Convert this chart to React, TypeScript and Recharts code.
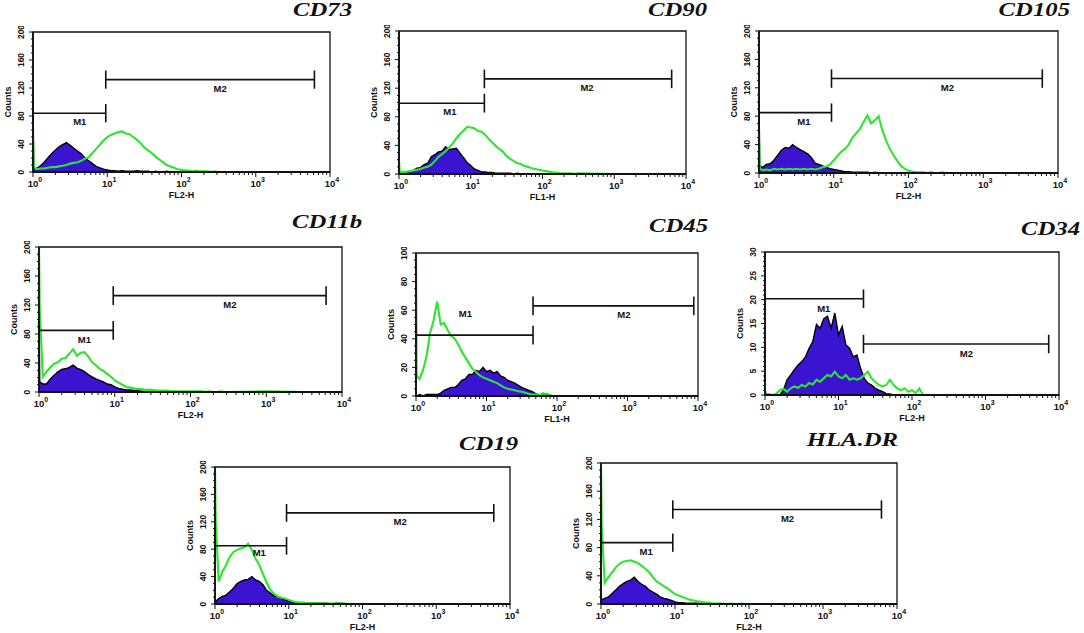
import React from 'react';
import { ComposedChart, Area, Line, XAxis, YAxis, ReferenceLine, ReferenceDot, ReferenceArea } from 'recharts';

// Channel positions in decades (log10 of fluorescence intensity)
const CHANNELS = [
  0, 0.01,
  0.05, 0.1, 0.15, 0.2, 0.25, 0.3, 0.35, 0.4, 0.45, 0.5,
  0.55, 0.6, 0.65, 0.7, 0.75, 0.8, 0.85, 0.9, 0.95, 1.0,
  1.05, 1.1, 1.15, 1.2, 1.25, 1.3, 1.35, 1.4, 1.45, 1.5,
  1.55, 1.6, 1.65, 1.7, 1.75, 1.8, 1.85, 1.9, 1.95, 2.0,
  2.05, 2.1, 2.15, 2.2, 2.25, 2.3, 2.35, 2.4, 2.45, 2.5,
  3.0, 3.5, 4.0,
];

const X_DECADES = [0, 1, 2, 3, 4];
const X_EXPONENTS = ['0', '1', '2', '3', '4'];
const Y_TICKS_200 = [0, 40, 80, 120, 160, 200];
const Y_TICKS_100 = [0, 20, 40, 60, 80, 100];
const Y_TICKS_30 = [0, 5, 10, 15, 20, 25, 30];

// ---- CD73 ----
const cd73Iso = [
  105, 6,
  5, 9, 14, 20, 26, 31, 36, 39, 42, 38,
  34, 30, 26, 20, 16, 12, 8, 6, 4, 3,
  2, 2, 1, 2, 1, 1, 1, 2, 1, 1,
  1, 0, 1, 0, 0, 1, 0, 0, 0, 0,
  0, 0, 0, 0, 0, 0, 0, 0, 0, 0,
  0, 0, 0,
];
const cd73Stain = [
  50, 8,
  4, 5, 5, 6, 7, 7, 8, 9, 10, 12,
  13, 14, 16, 19, 21, 27, 33, 39, 45, 50,
  53, 55, 57, 58, 55, 54, 50, 46, 41, 35,
  31, 27, 22, 18, 14, 10, 8, 6, 4, 3,
  2, 2, 1, 2, 1, 1, 1, 0, 1, 0,
  0, 0, 0,
];
// ---- CD90 ----
const cd90Iso = [
  3, 2,
  1, 2, 3, 5, 8, 9, 13, 15, 24, 27,
  31, 32, 38, 34, 35, 36, 29, 23, 16, 12,
  7, 5, 3, 3, 2, 2, 1, 1, 1, 1,
  1, 0, 1, 0, 0, 0, 0, 0, 0, 0,
  0, 0, 0, 0, 0, 0, 0, 0, 0, 0,
  0, 0, 0,
];
const cd90Stain = [
  19, 3,
  3, 3, 4, 5, 6, 7, 9, 10, 13, 18,
  24, 28, 32, 37, 43, 50, 56, 61, 66, 65,
  64, 60, 59, 55, 49, 44, 39, 35, 31, 25,
  21, 18, 15, 14, 11, 10, 8, 7, 6, 5,
  4, 3, 2, 2, 1, 1, 1, 1, 0, 1,
  0, 0, 0,
];
// ---- CD105 ----
const cd105Iso = [
  107, 10,
  8, 12, 13, 18, 25, 32, 36, 35, 40, 36,
  33, 30, 27, 22, 14, 12, 10, 8, 6, 5,
  4, 3, 2, 2, 1, 1, 1, 1, 1, 0,
  1, 0, 0, 0, 0, 0, 0, 0, 0, 0,
  0, 0, 0, 0, 0, 0, 0, 0, 0, 0,
  0, 0, 0,
];
const cd105Stain = [
  55, 6,
  4, 5, 4, 6, 5, 6, 5, 6, 5, 6,
  5, 6, 5, 6, 5, 6, 8, 9, 12, 18,
  24, 30, 34, 40, 50, 56, 62, 72, 81, 70,
  74, 80, 60, 46, 34, 25, 17, 10, 6, 3,
  2, 1, 1, 1, 0, 1, 0, 0, 1, 0,
  0, 0, 0,
];
// ---- CD11b ----
const cd11bIso = [
  97, 14,
  11, 11, 18, 23, 28, 31, 32, 34, 37, 33,
  31, 28, 24, 21, 18, 16, 14, 11, 10, 7,
  5, 4, 3, 3, 2, 2, 1, 1, 1, 1,
  0, 1, 0, 0, 0, 0, 0, 0, 0, 0,
  0, 0, 0, 0, 0, 0, 0, 0, 0, 0,
  0, 0, 0,
];
const cd11bStain = [
  200, 113,
  21, 28, 34, 39, 41, 46, 47, 53, 59, 50,
  54, 55, 49, 41, 37, 32, 29, 25, 21, 16,
  13, 10, 7, 6, 5, 4, 4, 3, 3, 3,
  2, 2, 2, 2, 1, 1, 1, 1, 1, 1,
  1, 1, 1, 0, 1, 0, 0, 1, 0, 0,
  1, 0, 0,
];
// ---- CD45 ----
const cd45Iso = [
  0, 0,
  1, 0, 1, 1, 1, 1, 2, 4, 5, 6,
  6, 8, 11, 12, 15, 15, 18, 17, 20, 17,
  18, 16, 17, 14, 13, 11, 10, 9, 7.5, 6,
  5, 4, 3, 1.5, 1, 0.5, 1.5, 0.5, 0, 0,
  0, 0, 0, 0, 0, 0, 0, 0, 0, 0,
  0, 0, 0,
];
const cd45Stain = [
  100, 14,
  12, 18, 28, 44, 53, 66, 50, 51, 46, 42,
  40, 36, 31, 27, 23, 19, 17, 14.5, 13, 12,
  11, 10, 9, 7.5, 6, 5, 4.5, 4, 3.3, 3,
  2.3, 1.6, 1, 1, 0.5, 2, 1, 0.3, 0, 0,
  0, 0, 0, 0, 0, 0, 0, 0, 0, 0,
  0, 0, 0,
];
// ---- CD34 ----
const cd34Iso = [
  0, 0,
  0, 0, 0, 0, 1, 3.2, 4.2, 5.3, 6.3, 7,
  8, 9.8, 11.2, 14.8, 14, 16, 16.5, 14, 17.2, 12.6,
  14.4, 10.5, 9.8, 8, 8.4, 5.6, 3.5, 2.5, 2.1, 1.4,
  1, 0.7, 0.3, 0.2, 0, 0, 0, 0, 0, 0,
  0, 0, 0, 0, 0, 0, 0, 0, 0, 0,
  0, 0, 0,
];
const cd34Stain = [
  1.3, 0.3,
  0.2, 0, 0.2, 1, 1.3, 0.7, 1.4, 1.8, 1.5, 2.1,
  1.8, 2.5, 2.2, 3.2, 2.8, 3.5, 4.2, 3.9, 4.9, 3.9,
  3.5, 4.2, 3.2, 3.5, 3.2, 3.5, 4.2, 4.9, 3.5, 2.8,
  2.1, 1.8, 2.1, 3.2, 2.1, 1.4, 1, 1.4, 0.7, 1,
  0.4, 1.4, 0, 0, 0, 0, 0, 0, 0, 0,
  0, 0, 0,
];
// ---- CD19 ----
const cd19Iso = [
  0, 4,
  8, 11, 13, 18, 23, 30, 33, 35, 36, 40,
  35, 33, 28, 20, 16, 12, 11, 8, 6, 4,
  3, 2, 2, 1, 1, 1, 1, 1, 1, 1,
  0.5, 0.5, 1, 1, 0.5, 0.5, 0.5, 0.5, 0, 0,
  0, 0, 0, 0, 0, 0, 0, 0, 0, 0,
  0, 0, 0,
];
const cd19Stain = [
  200, 120,
  33, 47, 57, 69, 76, 79, 81, 83, 88, 79,
  66, 57, 44, 31, 21, 15, 11, 9, 8, 6,
  4, 3, 2, 2, 1, 1, 1, 1, 1, 1,
  0.5, 0.5, 0.5, 0.5, 1, 0, 0, 0, 0, 0,
  0, 0, 0, 0, 0, 0, 0, 0, 0, 0,
  0, 0, 0,
];
// ---- HLA.DR ----
const hlaIso = [
  10, 6,
  8, 10, 15, 20, 25, 29, 32, 34, 38, 32,
  28, 25, 20, 17, 14, 10, 8, 7, 5, 3,
  2, 2, 1, 1, 1, 1, 0.5, 0.5, 0.5, 0.5,
  0, 0, 0, 0, 0, 0, 0, 0, 0, 0,
  0, 0, 0, 0, 0, 0, 0, 0, 0, 0,
  0, 0, 0,
];
const hlaStain = [
  200, 110,
  30, 38, 45, 52, 57, 60, 61, 62, 60, 58,
  54, 50, 45, 38, 32, 29, 25, 22, 18, 14,
  12, 10, 8, 6, 5, 4, 3, 2, 2, 1,
  0.5, 0.5, 0.5, 0, 0.5, 0, 0, 0.5, 0, 0,
  0, 0, 0, 0, 0, 0, 0, 0, 0, 0,
  0, 0, 0,
];

// Marker gates: [from decade, to decade, count level, label decade, label level]
const cd73M1 = [0, 0.98, 84, 0.63, 72];
const cd73M2 = [0.98, 3.79, 132, 2.52, 120];
const cd90M1 = [0, 1.19, 99, 0.71, 87];
const cd90M2 = [1.19, 3.8, 133, 2.62, 121];
const cd105M1 = [0, 0.97, 85, 0.6, 73];
const cd105M2 = [0.97, 3.79, 133, 2.52, 121];
const cd11bM1 = [0, 0.98, 85, 0.6, 73];
const cd11bM2 = [0.98, 3.79, 133, 2.52, 121];
const cd45M1 = [0, 1.66, 42.6, 0.7, 58];
const cd45M2 = [1.66, 3.94, 63, 2.95, 57];
const cd34M1 = [0, 1.34, 20.2, 0.8, 18.1];
const cd34M2 = [1.34, 3.86, 10.7, 2.74, 8.8];
const cd19M1 = [0, 0.97, 85, 0.6, 75];
const cd19M2 = [0.97, 3.78, 133, 2.51, 121];
const hlaM1 = [0, 0.97, 87, 0.61, 74];
const hlaM2 = [0.97, 3.79, 134, 2.52, 121];

const FILL = '#3a14d0';
const GREEN = '#2fe42f';
const INK = '#111';
const SANS = '"Liberation Sans", Arial, sans-serif';
const SERIF = '"Liberation Serif", "Times New Roman", serif';

const Y_AXIS_W = 30;
const M_TOP = 6;
const M_RIGHT = 18;
const X_AXIS_H = 30;

const PANELS = [
  { title: 'CD73', xLabel: 'FL2-H', box: { left: 33, top: 32, w: 297, h: 140 }, tr: 352, tcy: 9, ymax: 200, yMajor: Y_TICKS_200, yMinor: 10, iso: cd73Iso, stain: cd73Stain, m1: cd73M1, m2: cd73M2 },
  { title: 'CD90', xLabel: 'FL1-H', box: { left: 399, top: 31, w: 287, h: 143 }, tr: 707, tcy: 9, ymax: 200, yMajor: Y_TICKS_200, yMinor: 10, iso: cd90Iso, stain: cd90Stain, m1: cd90M1, m2: cd90M2 },
  { title: 'CD105', xLabel: 'FL2-H', box: { left: 759, top: 31, w: 299, h: 142 }, tr: 1070, tcy: 9, ymax: 200, yMajor: Y_TICKS_200, yMinor: 10, iso: cd105Iso, stain: cd105Stain, m1: cd105M1, m2: cd105M2 },
  { title: 'CD11b', xLabel: 'FL2-H', box: { left: 39, top: 247, w: 303, h: 145 }, tr: 362, tcy: 222, ymax: 200, yMajor: Y_TICKS_200, yMinor: 10, iso: cd11bIso, stain: cd11bStain, m1: cd11bM1, m2: cd11bM2 },
  { title: 'CD45', xLabel: 'FL1-H', box: { left: 416, top: 253, w: 282, h: 143 }, tr: 708, tcy: 226, ymax: 100, yMajor: Y_TICKS_100, yMinor: 5, iso: cd45Iso, stain: cd45Stain, m1: cd45M1, m2: cd45M2 },
  { title: 'CD34', xLabel: 'FL2-H', box: { left: 765, top: 252, w: 294, h: 143 }, tr: 1080, tcy: 229, ymax: 30, yMajor: Y_TICKS_30, yMinor: 1, iso: cd34Iso, stain: cd34Stain, m1: cd34M1, m2: cd34M2 },
  { title: 'CD19', xLabel: 'FL2-H', box: { left: 215, top: 467, w: 295, h: 137 }, tr: 518, tcy: 444, ymax: 200, yMajor: Y_TICKS_200, yMinor: 10, iso: cd19Iso, stain: cd19Stain, m1: cd19M1, m2: cd19M2 },
  { title: 'HLA.DR', xLabel: 'FL2-H', box: { left: 601, top: 463, w: 296, h: 141 }, tr: 898, tcy: 440, ymax: 200, yMajor: Y_TICKS_200, yMinor: 10, iso: hlaIso, stain: hlaStain, m1: hlaM1, m2: hlaM2 },
];

const X_ALL_TICKS: number[] = (() => {
  const out: number[] = [];
  X_DECADES.forEach((d) => {
    out.push(d);
    if (d < 4) for (let m = 2; m <= 9; m++) out.push(d + Math.log10(m));
  });
  return out;
})();

function XTick(props: any) {
  const { x, y, payload } = props;
  const v = payload.value;
  const idx = X_DECADES.findIndex((d) => Math.abs(d - v) < 1e-6);
  const major = idx >= 0;
  return (
    <g>
      <line x1={x} x2={x} y1={y} y2={y + (major ? 5 : 3)} stroke={INK} strokeWidth={1} />
      {major && (
        <text x={x + 2} y={y + 15} textAnchor="middle" fontSize={9.5} fontFamily={SANS} fontWeight="bold" fill={INK}>
          <tspan>10</tspan>
          <tspan dy={-5} fontSize={7}>{X_EXPONENTS[idx]}</tspan>
        </text>
      )}
    </g>
  );
}

function makeYTick(majors: number[]) {
  return (props: any) => {
    const { x, y, payload } = props;
    const major = majors.some((m) => Math.abs(m - payload.value) < 1e-6);
    const lx = x - 12;
    return (
      <g>
        <line x1={x} x2={x - (major ? 4 : 2)} y1={y} y2={y} stroke={INK} strokeWidth={1} />
        {major && (
          <text x={lx} y={y} transform={`rotate(-90 ${lx} ${y})`} textAnchor="middle" dominantBaseline="central" fontSize={8.5} fontFamily={SANS} fontWeight="bold" fill={INK}>
            {payload.value}
          </text>
        )}
      </g>
    );
  };
}

function gateElements(g: number[], name: string, ymax: number, key: string) {
  const [from, to, level, lx, ly] = g;
  const t = ymax * 0.065;
  return [
    <ReferenceLine key={key + 'h'} segment={[{ x: from, y: level }, { x: to, y: level }]} stroke={INK} strokeWidth={1.6} ifOverflow="visible" />,
    <ReferenceLine key={key + 'a'} segment={[{ x: from, y: level - t }, { x: from, y: level + t }]} stroke={INK} strokeWidth={1.6} ifOverflow="visible" />,
    <ReferenceLine key={key + 'b'} segment={[{ x: to, y: level - t }, { x: to, y: level + t }]} stroke={INK} strokeWidth={1.6} ifOverflow="visible" />,
    <ReferenceDot
      key={key + 'l'}
      x={lx}
      y={ly}
      r={0}
      fill="none"
      stroke="none"
      ifOverflow="visible"
      label={(p: any) => {
        const vb = p.viewBox || {};
        const cx = (vb.x || 0) + (vb.width || 0) / 2;
        const cy = (vb.y || 0) + (vb.height || 0) / 2;
        return (
          <text x={cx} y={cy} textAnchor="middle" dominantBaseline="central" fontSize={9.5} fontFamily={SANS} fontWeight="bold" fill={INK}>
            {name}
          </text>
        );
      }}
    />,
  ];
}

function Panel({ cfg }: { cfg: any }) {
  const data = CHANNELS.map((ch, i) => ({ ch, iso: cfg.iso[i], stain: cfg.stain[i] }));
  const W = cfg.box.w + Y_AXIS_W + M_RIGHT;
  const H = cfg.box.h + M_TOP + X_AXIS_H;
  const yTicks: number[] = [];
  for (let v = 0; v <= cfg.ymax + 1e-9; v += cfg.yMinor) yTicks.push(Math.round(v * 1000) / 1000);
  const YTick = makeYTick(cfg.yMajor);
  return (
    <>
      <div style={{ position: 'absolute', left: cfg.box.left - Y_AXIS_W, top: cfg.box.top - M_TOP, width: W, height: H }}>
        <ComposedChart width={W} height={H} data={data} margin={{ top: M_TOP, right: M_RIGHT, left: 0, bottom: 0 }}>
          <XAxis
            type="number"
            dataKey="ch"
            domain={[0, 4]}
            ticks={X_ALL_TICKS}
            interval={0}
            tickLine={false}
            tickSize={0}
            tickMargin={0}
            tick={XTick}
            axisLine={{ stroke: INK, strokeWidth: 1.8 }}
            height={X_AXIS_H}
            allowDataOverflow
            label={(p: any) => {
              const vb = p.viewBox;
              if (!vb) return null;
              return (
                <text x={vb.x + vb.width / 2} y={vb.y + 26} textAnchor="middle" fontSize={9} fontFamily={SANS} fontWeight="bold" fill={INK}>
                  {cfg.xLabel}
                </text>
              );
            }}
          />
          <YAxis
            type="number"
            domain={[0, cfg.ymax]}
            ticks={yTicks}
            interval={0}
            tickLine={false}
            tickSize={0}
            tickMargin={0}
            tick={YTick}
            axisLine={{ stroke: INK, strokeWidth: 1.8 }}
            width={Y_AXIS_W}
            allowDataOverflow
            label={(p: any) => {
              const vb = p.viewBox;
              if (!vb) return null;
              const lx = vb.x + 5;
              const ly = vb.y + vb.height / 2;
              return (
                <text x={lx} y={ly} transform={`rotate(-90 ${lx} ${ly})`} textAnchor="middle" dominantBaseline="central" fontSize={9} fontFamily={SANS} fontWeight="bold" fill={INK}>
                  Counts
                </text>
              );
            }}
          />
          <ReferenceArea x1={0} x2={4} y1={0} y2={cfg.ymax} fill="none" fillOpacity={0} stroke={INK} strokeWidth={1.3} ifOverflow="visible" />
          <Area type="linear" dataKey="iso" fill={FILL} fillOpacity={1} stroke="#000" strokeWidth={1.4} isAnimationActive={false} dot={false} activeDot={false} />
          <Line type="linear" dataKey="stain" stroke={GREEN} strokeWidth={2.1} isAnimationActive={false} dot={false} activeDot={false} />
          {gateElements(cfg.m1, 'M1', cfg.ymax, 'm1')}
          {gateElements(cfg.m2, 'M2', cfg.ymax, 'm2')}
        </ComposedChart>
      </div>
      <div
        style={{
          position: 'absolute',
          left: cfg.tr - 200,
          width: 200,
          top: Math.max(0, cfg.tcy - 10),
          height: 20,
          lineHeight: '20px',
          textAlign: 'right',
          fontFamily: SERIF,
          fontStyle: 'italic',
          fontWeight: 'bold',
          fontSize: 19,
          color: '#111',
          whiteSpace: 'nowrap',
          transform: 'scaleX(1.3)',
          transformOrigin: 'right center',
        }}
      >
        {cfg.title}
      </div>
    </>
  );
}

export default function App() {
  return (
    <div style={{ position: 'absolute', left: 0, top: 0, width: 1084, height: 633, background: '#fff', overflow: 'hidden' }}>
      {PANELS.map((cfg) => (
        <Panel key={cfg.title} cfg={cfg} />
      ))}
    </div>
  );
}
